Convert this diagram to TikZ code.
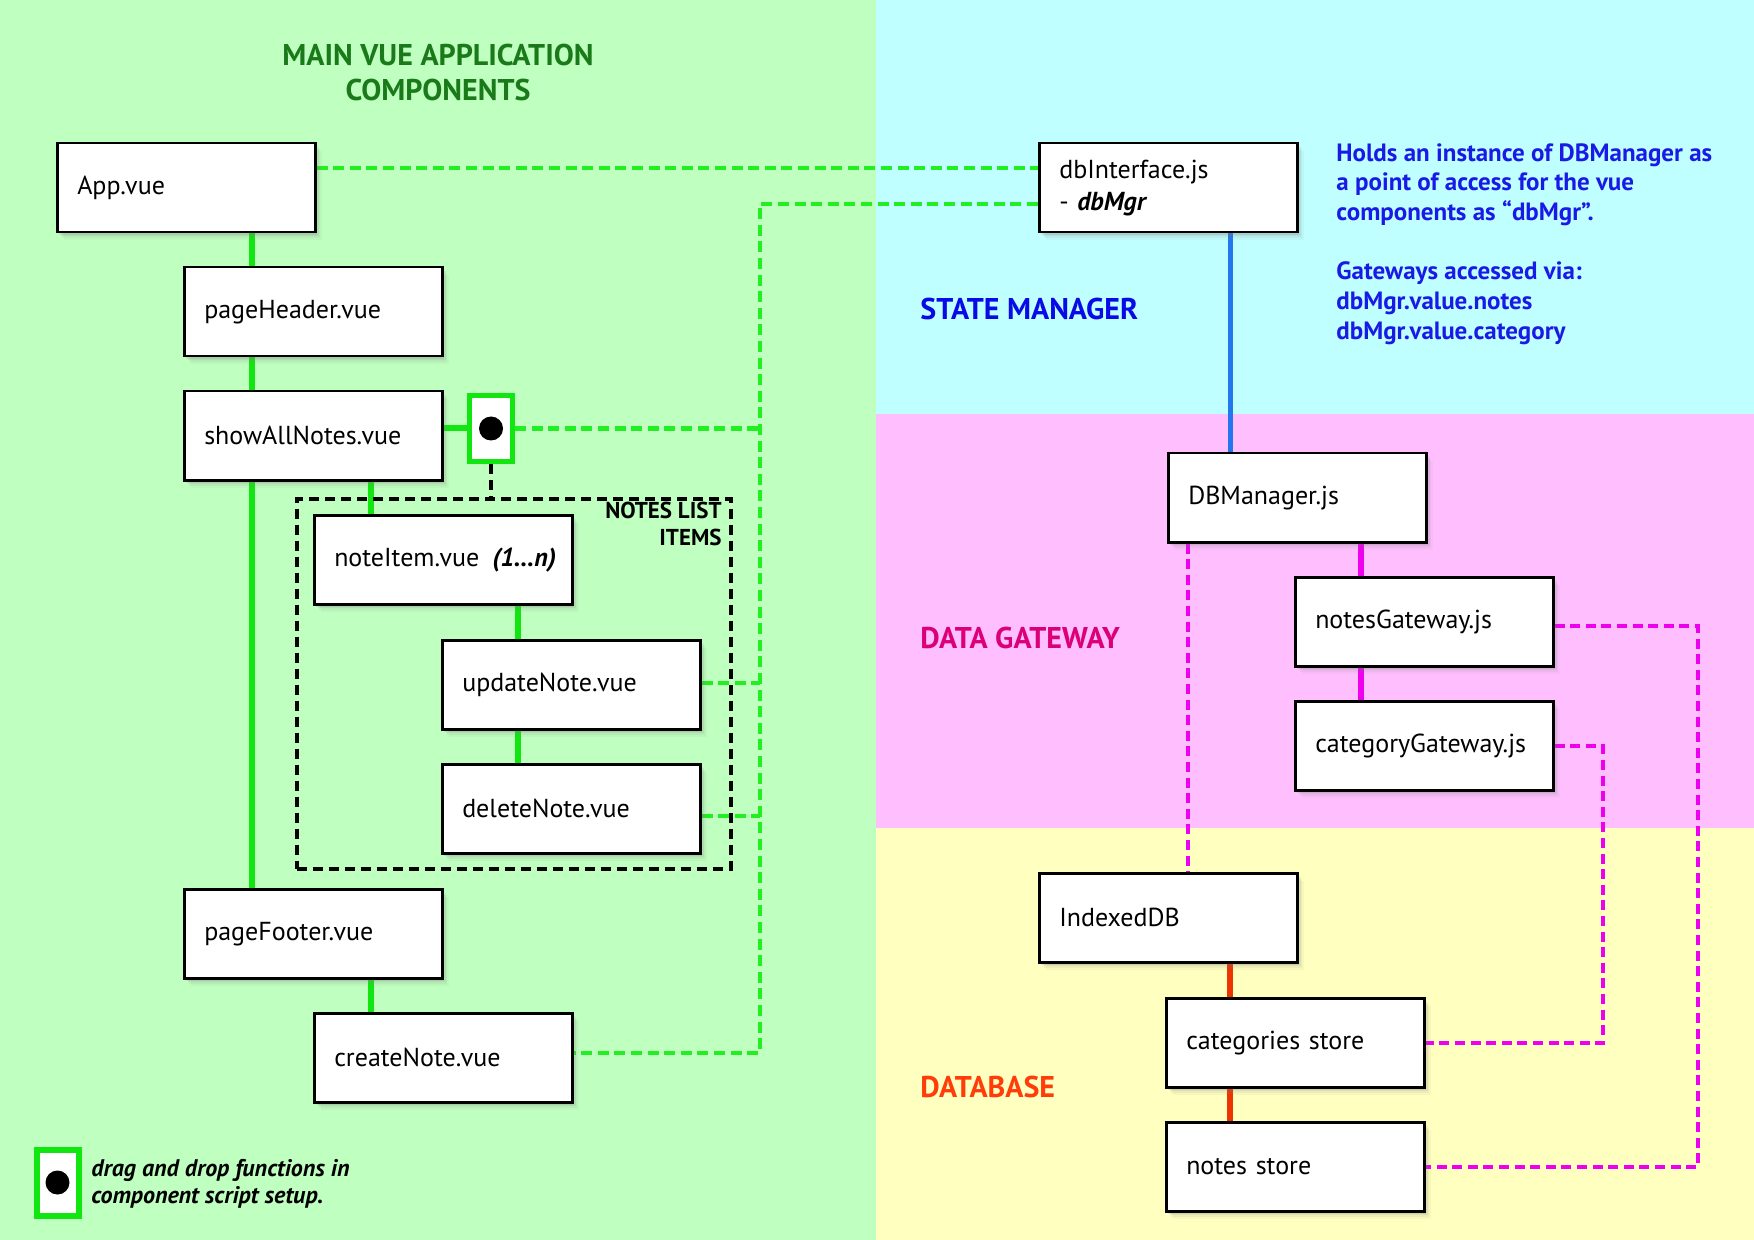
\documentclass[tikz,border=0pt]{standalone}
\usepackage{fontspec}
\setmainfont{PT Sans}
\usetikzlibrary{shadows}
\definecolor{bggreen}{HTML}{BFFFBF}
\definecolor{bgcyan}{HTML}{BFFFFF}
\definecolor{bgpink}{HTML}{FFBFFF}
\definecolor{bgyellow}{HTML}{FFFFBF}
\definecolor{titlegreen}{HTML}{1A7A1A}
\definecolor{smblue}{HTML}{0A0AE6}
\definecolor{dgpink}{HTML}{DC0078}
\definecolor{dbred}{HTML}{FF3C0A}
\definecolor{infoblue}{HTML}{1A1AE6}
\definecolor{lgreen}{HTML}{11E611}
\definecolor{lgreendash}{HTML}{22EE22}
\definecolor{lblue}{HTML}{2277EE}
\definecolor{lmag}{HTML}{EE00EE}
\definecolor{lred}{HTML}{EE3300}
\pgfdeclarelayer{bg}
\pgfdeclarelayer{edges}
\pgfsetlayers{bg,edges,main}
\begin{document}
\begin{tikzpicture}[x=0.5pt,y=-0.5pt,
  box/.style={draw=black, line width=1.25pt, fill=white, anchor=north west,
    minimum width=129pt, minimum height=44.5pt, text width=109pt,
    inner xsep=10pt, inner ysep=0pt, align=left,
    font=\fontsize{13}{16}\selectfont,
    drop shadow={shadow xshift=3.5pt, shadow yshift=-4pt, opacity=0.06},
    drop shadow={shadow xshift=2.6pt, shadow yshift=-3pt, opacity=0.09},
    drop shadow={shadow xshift=1.8pt, shadow yshift=-2.1pt, opacity=0.12},
    drop shadow={shadow xshift=1pt, shadow yshift=-1.2pt, opacity=0.15}},
  ddbox/.style={draw=lgreen, fill=white, inner sep=0pt},
  dddot/.style={circle, fill=black, minimum size=12pt, inner sep=0pt},
  gsolid/.style={draw=lgreen, line width=3pt},
  gdash/.style={draw=lgreendash, line width=2.3pt, dash pattern=on 5.5pt off 2.8pt},
  kdash/.style={draw=black, line width=2pt, dash pattern=on 5pt off 3pt},
  bsolid/.style={draw=lblue, line width=2.5pt},
  msolid/.style={draw=lmag, line width=3pt},
  mdash/.style={draw=lmag, line width=2.3pt, dash pattern=on 5pt off 2.8pt},
  rsolid/.style={draw=lred, line width=3pt},
  regionlabel/.style={anchor=base west, inner sep=0pt, font=\fontsize{15}{18}\selectfont\bfseries}
]
\useasboundingbox (0,0) rectangle (1754,1240);
\begin{pgfonlayer}{bg}
  \fill[bggreen] (0,0) rectangle (876,1240);
  \fill[bgcyan] (876,0) rectangle (1754,414);
  \fill[bgpink] (876,414) rectangle (1754,828);
  \fill[bgyellow] (876,828) rectangle (1754,1240);
\end{pgfonlayer}

% titles
\node[anchor=north, inner sep=0pt, align=center, text=titlegreen,
  font=\fontsize{15}{17.5}\selectfont\bfseries] (title) at (438,44)
  {MAIN VUE APPLICATION\\COMPONENTS};
\node[regionlabel, text=smblue] (sm) at (920,320) {STATE MANAGER};
\node[regionlabel, text=dgpink] (dg) at (920,648) {DATA GATEWAY};
\node[regionlabel, text=dbred] (dbl) at (920,1097) {DATABASE};
\node[anchor=north west, inner sep=0pt, align=left, text=infoblue,
  font=\fontsize{12.5}{14.85}\selectfont\bfseries] (info) at (1336,143)
  {Holds an instance of DBManager as\\a point of access for the vue\\components as “dbMgr”.\\[14.85pt]Gateways accessed via:\\dbMgr.value.notes\\dbMgr.value.category};

% left boxes
\node[box] (app) at (56,142) {App.vue};
\node[box] (ph) at (183,266) {pageHeader.vue};
\node[box] (san) at (183,390) {showAllNotes.vue};
\node[box] (ni) at (313,514) {\mbox{noteItem.vue\enspace\textbf{\textit{(1…n)}}}};
\node[box] (un) at (441,639) {updateNote.vue};
\node[box] (dn) at (441,763) {deleteNote.vue};
\node[box] (pf) at (183,888) {pageFooter.vue};
\node[box] (cn) at (313,1012) {createNote.vue};

% notes list dashed frame
\node[kdash, anchor=north west, minimum width=217pt, minimum height=185pt, inner sep=0pt] (nl) at (295,497) {};
\node[anchor=north east, inner sep=0pt, align=right,
  font=\fontsize{11.5}{13.5}\selectfont\bfseries] (nllabel) at (722,502) {NOTES LIST\\ITEMS};

% drag-drop icon
\node[ddbox, line width=2.5pt, minimum width=21.5pt, minimum height=33pt] (dd) at (491,428.5) {};
\node[dddot] (dddotn) at (dd.center) {};

% right boxes
\node[box] (dbi) at (1038,142) {dbInterface.js\\- \textbf{\textit{dbMgr}}};
\node[box] (dbm) at (1167,452) {DBManager.js};
\node[box] (ng) at (1294,576) {notesGateway.js};
\node[box] (cg) at (1294,700) {categoryGateway.js};
\node[box] (idb) at (1038,872) {IndexedDB};
\node[box] (cs) at (1165,997) {categories store};
\node[box] (ns) at (1165,1121) {notes store};

% legend
\node[ddbox, line width=3pt, minimum width=21pt, minimum height=33pt] (legbox) at (57.5,1182.5) {};
\node[dddot] (legdot) at (legbox.center) {};
\node[anchor=west, inner sep=0pt, align=left,
  font=\fontsize{12}{13.5}\selectfont\bfseries\itshape] (legtext) at (91,1184)
  {drag and drop functions in\\component script setup.};

\coordinate (bustop) at (760,204);
\coordinate (busbot) at (760,1053);
\coordinate (ngc) at (1698,626);
\coordinate (nsc) at (1698,1167);
\coordinate (cgc) at (1603,746);
\coordinate (csc) at (1603,1043);

\begin{pgfonlayer}{edges}
  % green tree
  \draw[gsolid] (app.south -| 252,0) -- (ph.north -| 252,0);
  \draw[gsolid] (ph.south -| 252,0) -- (san.north -| 252,0);
  \draw[gsolid] (san.south -| 252,0) -- (pf.north -| 252,0);
  \draw[gsolid] (san.south -| 371,0) -- (ni.north -| 371,0);
  \draw[gsolid] (ni.south -| 518,0) -- (un.north -| 518,0);
  \draw[gsolid] (un.south -| 518,0) -- (dn.north -| 518,0);
  \draw[gsolid] (pf.south -| 371,0) -- (cn.north -| 371,0);
  \draw[gsolid] (san.east |- dd.west) -- (dd.west);
  \draw[kdash] (dd.south) -- (dd.south |- nl.north);
  % green dashed
  \draw[gdash] (app.east |- 0,168) -- (dbi.west |- 0,168);
  \draw[gdash] (dbi.west |- bustop) -- (bustop) -- (busbot) -- (cn.east |- busbot);
  \draw[gdash] (dd.east) -- (dd.east -| bustop);
  \draw[gdash] (un.east |- 0,683) -- (bustop |- 0,683);
  \draw[gdash] (dn.east |- 0,816) -- (bustop |- 0,816);
  % right side
  \draw[bsolid] (dbi.south -| 1230,0) -- (dbm.north -| 1230,0);
  \draw[msolid] (dbm.south -| 1361,0) -- (ng.north -| 1361,0);
  \draw[msolid] (ng.south -| 1361,0) -- (cg.north -| 1361,0);
  \draw[mdash] (dbm.south -| 1188,0) -- (idb.north -| 1188,0);
  \draw[mdash] (ng.east |- ngc) -- (ngc) -- (nsc) -- (ns.east |- nsc);
  \draw[mdash] (cg.east |- cgc) -- (cgc) -- (csc) -- (cs.east |- csc);
  \draw[rsolid] (idb.south -| 1230,0) -- (cs.north -| 1230,0);
  \draw[rsolid] (cs.south -| 1230,0) -- (ns.north -| 1230,0);
\end{pgfonlayer}
\end{tikzpicture}
\end{document}
